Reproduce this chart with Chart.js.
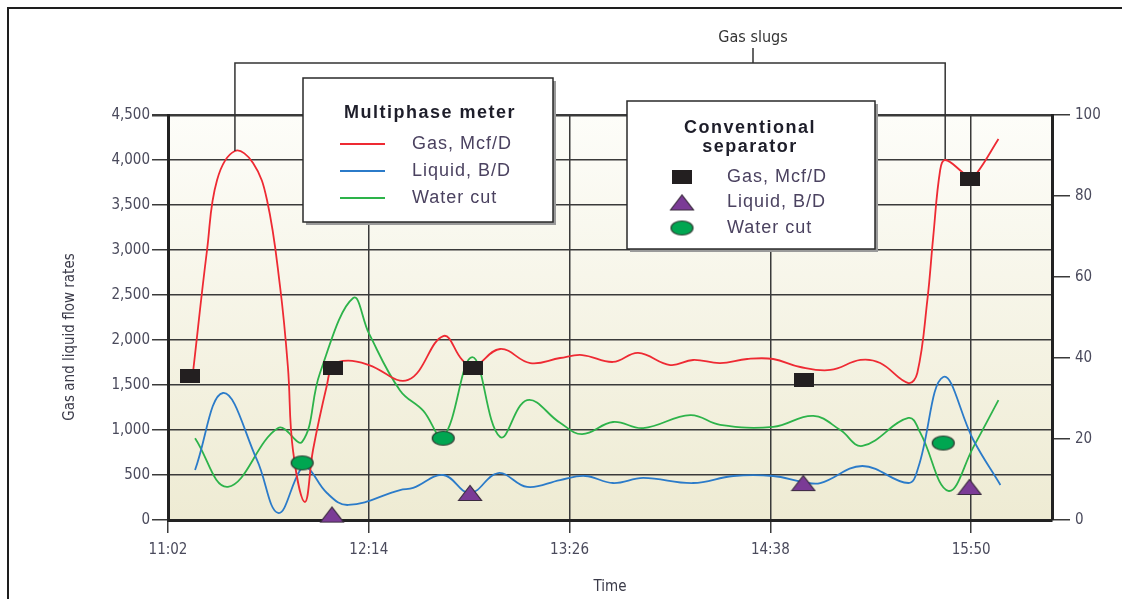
<!DOCTYPE html>
<html>
<head>
<meta charset="utf-8">
<script src="https://cdn.jsdelivr.net/npm/chart.js@4.4.1/dist/chart.umd.min.js"></script>
<style>
  html, body { margin: 0; padding: 0; background: #fff; }
  #wrap { position: relative; width: 1122px; height: 599px; }
</style>
</head>
<body>
<div id="wrap"><canvas id="chart" width="1122" height="599"></canvas></div>
<script>
// Multiphase meter vs conventional separator
// time axis = minutes after 11:02

const timeTicks = [0, 72, 144, 216, 288];
const timeLabels = ['11:02', '12:14', '13:26', '14:38', '15:50'];

// multiphase meter - gas, Mcf/D
const gasTime = [9, 14, 17.6, 24, 30.5, 35.5, 40.2, 43, 44.8, 49.1, 52, 57, 59.2, 64.6, 72.1, 86.1, 98.7, 105.5, 109.4, 119.1, 129.9, 140.6, 148.5, 159.6, 168.6, 180.1, 188.3, 198, 207.7, 217, 226.7, 237.5, 248.3, 255.4, 265.5, 268.7, 272.3, 274.4, 276.9, 278.7, 284.8, 287.5, 290.2, 297.8];
const gasRate = [1650, 3000, 3778, 4100, 3967, 3556, 2589, 1700, 778, 200, 778, 1500, 1720, 1770, 1722, 1556, 2044, 1778, 1700, 1900, 1744, 1800, 1833, 1756, 1856, 1722, 1778, 1744, 1789, 1789, 1700, 1667, 1778, 1744, 1522, 1633, 2444, 3144, 3889, 4000, 3867, 3800, 3860, 4233];

// multiphase meter - liquid, B/D
const liqTime = [9.7, 19.7, 31.9, 39.5, 47.4, 49.9, 57, 64.6, 83.2, 87.9, 98.7, 108.3, 118.4, 128.8, 140.6, 149.6, 159.6, 170.4, 188.3, 202.7, 217, 227.8, 233.9, 249, 265.5, 269.1, 278, 288.8, 298.5];
const liqRate = [556, 1411, 667, 78, 556, 589, 300, 167, 333, 356, 500, 300, 522, 367, 444, 489, 411, 467, 411, 489, 489, 422, 410, 600, 411, 589, 1589, 889, 389];

// multiphase meter - water cut, %
const wcTime = [9.7, 21.5, 39.5, 48.1, 54.5, 66.4, 72.1, 83.2, 91.5, 98.7, 109.1, 119.1, 128.8, 140.6, 148.5, 159.6, 170.4, 187.3, 198, 217, 231.4, 241.1, 249, 265.5, 269.8, 279.8, 288.8, 297.8];
const wcPct = [20.2, 8.2, 22.7, 19.3, 36.3, 54.8, 46, 32, 27, 20.5, 40.2, 20.5, 29.6, 24, 21.2, 24.2, 22.7, 25.9, 23.5, 23, 25.7, 22.2, 18.3, 25.2, 21.5, 7.2, 18, 29.6];

// conventional separator samples
const sepGasTime = [7.9, 59.2, 109.4, 228.2, 287.7];
const sepGasRate = [1600, 1690, 1690, 1560, 3790];
const sepLiqTime = [58.8, 108.3, 227.8, 287.4];
const sepLiqRate = [60, 300, 410, 367];
const sepWcTime = [48.1, 98.7, 278];
const sepWcPct = [14.1, 20.2, 19];

const RED = '#ee2a33', BLUE = '#2b7bc9', GREEN = '#2db34a';
const condensed = '"DejaVu Sans Condensed", "Liberation Sans Narrow", sans-serif';

function pts(xs, ys) {
    return xs.map((x, i) => ({ x: x, y: ys[i] }));
}

// marker images
function markerRect() {
    const c = document.createElement('canvas');
    c.width = 20; c.height = 14;
    const g = c.getContext('2d');
    g.fillStyle = '#231f20';
    g.fillRect(0, 0, 20, 14);
    return c;
}
function markerTri() {
    const c = document.createElement('canvas');
    c.width = 26; c.height = 18;
    const g = c.getContext('2d');
    g.beginPath();
    g.moveTo(1.5, 16.5); g.lineTo(13, 1.5); g.lineTo(24.5, 16.5); g.closePath();
    g.fillStyle = '#7b3b96';
    g.fill();
    g.strokeStyle = '#3b2b3f';
    g.lineWidth = 1.2;
    g.stroke();
    return c;
}
function markerEll() {
    const c = document.createElement('canvas');
    c.width = 25; c.height = 17;
    const g = c.getContext('2d');
    g.beginPath();
    g.ellipse(12.5, 8.5, 11, 7, 0, 0, Math.PI * 2);
    g.fillStyle = '#00a651';
    g.fill();
    g.strokeStyle = '#2f3d33';
    g.lineWidth = 1.2;
    g.stroke();
    return c;
}
const imgRect = markerRect(), imgTri = markerTri(), imgEll = markerEll();

function legendBox(ctx, x, y, w, h) {
    ctx.fillStyle = '#9a9a9a';
    ctx.fillRect(x + 3, y + 3, w, h);
    ctx.fillStyle = '#fff';
    ctx.fillRect(x, y, w, h);
    ctx.strokeStyle = '#2a2a2a';
    ctx.lineWidth = 1.5;
    ctx.strokeRect(x, y, w, h);
}

const decor = {
    id: 'decor',
    beforeDraw(chart) {
        const { ctx, chartArea: a } = chart;
        const grad = ctx.createLinearGradient(0, a.top, 0, a.bottom);
        grad.addColorStop(0, '#fdfdf9');
        grad.addColorStop(1, '#eeebd3');
        ctx.save();
        ctx.fillStyle = grad;
        ctx.fillRect(a.left, a.top, a.right - a.left, a.bottom - a.top);
        ctx.restore();
    },
    afterDraw(chart) {
        const { ctx } = chart;
        const xs = chart.scales.x, ys = chart.scales.y;
        ctx.save();

        // outer frame
        ctx.strokeStyle = '#1e1e1e';
        ctx.lineWidth = 2;
        ctx.beginPath();
        ctx.moveTo(8, 599); ctx.lineTo(8, 8); ctx.lineTo(1122, 8);
        ctx.stroke();

        // left axis title (sits a bit below the axis centre in the original)
        ctx.save();
        ctx.translate(70, 337);
        ctx.rotate(-Math.PI / 2);
        ctx.fillStyle = '#3a3a48';
        ctx.font = '15px ' + condensed;
        ctx.textAlign = 'center';
        ctx.textBaseline = 'middle';
        ctx.fillText('Gas and liquid flow rates', 0, 0);
        ctx.restore();

        // gas slugs bracket
        const x1 = xs.getPixelForValue(24), x2 = xs.getPixelForValue(278.7);
        ctx.strokeStyle = '#333';
        ctx.lineWidth = 1.5;
        ctx.beginPath();
        ctx.moveTo(x1, ys.getPixelForValue(4100)); ctx.lineTo(x1, 63);
        ctx.lineTo(x2, 63); ctx.lineTo(x2, ys.getPixelForValue(4010));
        ctx.moveTo(753, 63); ctx.lineTo(753, 48);
        ctx.stroke();
        ctx.fillStyle = '#333';
        ctx.font = '16px ' + condensed;
        ctx.textAlign = 'center';
        ctx.textBaseline = 'middle';
        ctx.fillText('Gas slugs', 753, 38);

        // multiphase meter legend
        legendBox(ctx, 303, 78, 250, 144);
        ctx.fillStyle = '#1e1e2a';
        ctx.font = 'bold 18px "Liberation Sans", Arial, sans-serif';
        ctx.letterSpacing = '1.5px';
        ctx.fillText('Multiphase meter', 430, 113);
        ctx.font = '18px "Liberation Sans", Arial, sans-serif';
        ctx.letterSpacing = '1px';
        ctx.textAlign = 'left';
        const mp = [['Gas, Mcf/D', RED], ['Liquid, B/D', BLUE], ['Water cut', GREEN]];
        mp.forEach((e, i) => {
            const yy = 144 + i * 27;
            ctx.strokeStyle = e[1];
            ctx.lineWidth = 1.8;
            ctx.beginPath();
            ctx.moveTo(340, yy); ctx.lineTo(385, yy);
            ctx.stroke();
            ctx.fillStyle = '#4b4260';
            ctx.fillText(e[0], 412, yy);
        });

        // conventional separator legend
        legendBox(ctx, 627, 101, 248, 148);
        ctx.fillStyle = '#1e1e2a';
        ctx.font = 'bold 18px "Liberation Sans", Arial, sans-serif';
        ctx.letterSpacing = '1.5px';
        ctx.textAlign = 'center';
        ctx.fillText('Conventional', 750, 128);
        ctx.fillText('separator', 750, 147);
        ctx.font = '18px "Liberation Sans", Arial, sans-serif';
        ctx.letterSpacing = '1px';
        ctx.textAlign = 'left';
        const cs = [['Gas, Mcf/D', imgRect], ['Liquid, B/D', imgTri], ['Water cut', imgEll]];
        cs.forEach((e, i) => {
            const yy = 177 + i * 25.5;
            ctx.drawImage(e[1], 682 - e[1].width / 2, yy - e[1].height / 2);
            ctx.fillStyle = '#4b4260';
            ctx.fillText(e[0], 727, yy);
        });
        ctx.restore();
    }
};

const tickFont = { family: condensed, size: 15 };
const gridColor = '#3a3a3a';

new Chart(document.getElementById('chart'), {
    type: 'line',
    data: {
        datasets: [
            { type: 'scatter', data: pts(sepGasTime, sepGasRate), yAxisID: 'y', pointStyle: imgRect, pointRadius: 8, order: 0, clip: false },
            { type: 'scatter', data: pts(sepLiqTime, sepLiqRate), yAxisID: 'y', pointStyle: imgTri, pointRadius: 8, order: 0, clip: false },
            { type: 'scatter', data: pts(sepWcTime, sepWcPct), yAxisID: 'y2', pointStyle: imgEll, pointRadius: 8, order: 0, clip: false },
            { label: 'Gas, Mcf/D', data: pts(gasTime, gasRate), yAxisID: 'y', borderColor: RED, borderWidth: 1.8, tension: 0.4, pointRadius: 0, order: 1 },
            { label: 'Liquid, B/D', data: pts(liqTime, liqRate), yAxisID: 'y', borderColor: BLUE, borderWidth: 1.8, tension: 0.4, pointRadius: 0, order: 1 },
            { label: 'Water cut', data: pts(wcTime, wcPct), yAxisID: 'y2', borderColor: GREEN, borderWidth: 1.8, tension: 0.4, pointRadius: 0, order: 1 }
        ]
    },
    options: {
        responsive: false,
        animation: false,
        layout: { padding: { top: 115, left: 0, right: 0, bottom: 0 } },
        plugins: { legend: { display: false }, tooltip: { enabled: false } },
        scales: {
            x: {
                type: 'linear',
                min: 0,
                max: 317,
                afterFit: s => { s.height = 79; },
                ticks: {
                    stepSize: 72,
                    includeBounds: false,
                    padding: 8,
                    color: '#4a4a5c',
                    font: tickFont,
                    maxRotation: 0,
                    callback: v => timeLabels[timeTicks.indexOf(v)]
                },
                grid: { color: gridColor, lineWidth: 1.5, tickLength: 13 },
                border: { color: '#222', width: 3 },
                title: { display: true, text: 'Time', color: '#3a3a48', font: { family: condensed, size: 15 }, padding: { top: 0, bottom: 3 } }
            },
            y: {
                position: 'left',
                min: 0,
                max: 4500,
                afterFit: s => { s.width = 168; },
                ticks: {
                    stepSize: 500,
                    padding: 2,
                    color: '#4a4a5c',
                    font: tickFont,
                    callback: v => v.toLocaleString('en-US')
                },
                grid: {
                    color: gridColor,
                    lineWidth: c => (c.tick && c.tick.value === 4500 ? 2.5 : 1.5),
                    tickLength: 16
                },
                border: { color: '#222', width: 3 }
            },
            y2: {
                position: 'right',
                min: 0,
                max: 100,
                afterFit: s => { s.width = 70; },
                ticks: { stepSize: 20, padding: 5, color: '#4a4a5c', font: tickFont },
                grid: { drawOnChartArea: false, color: gridColor, lineWidth: 1.5, tickLength: 18 },
                border: { color: '#222', width: 3 }
            }
        }
    },
    plugins: [decor]
});
</script>
</body>
</html>
